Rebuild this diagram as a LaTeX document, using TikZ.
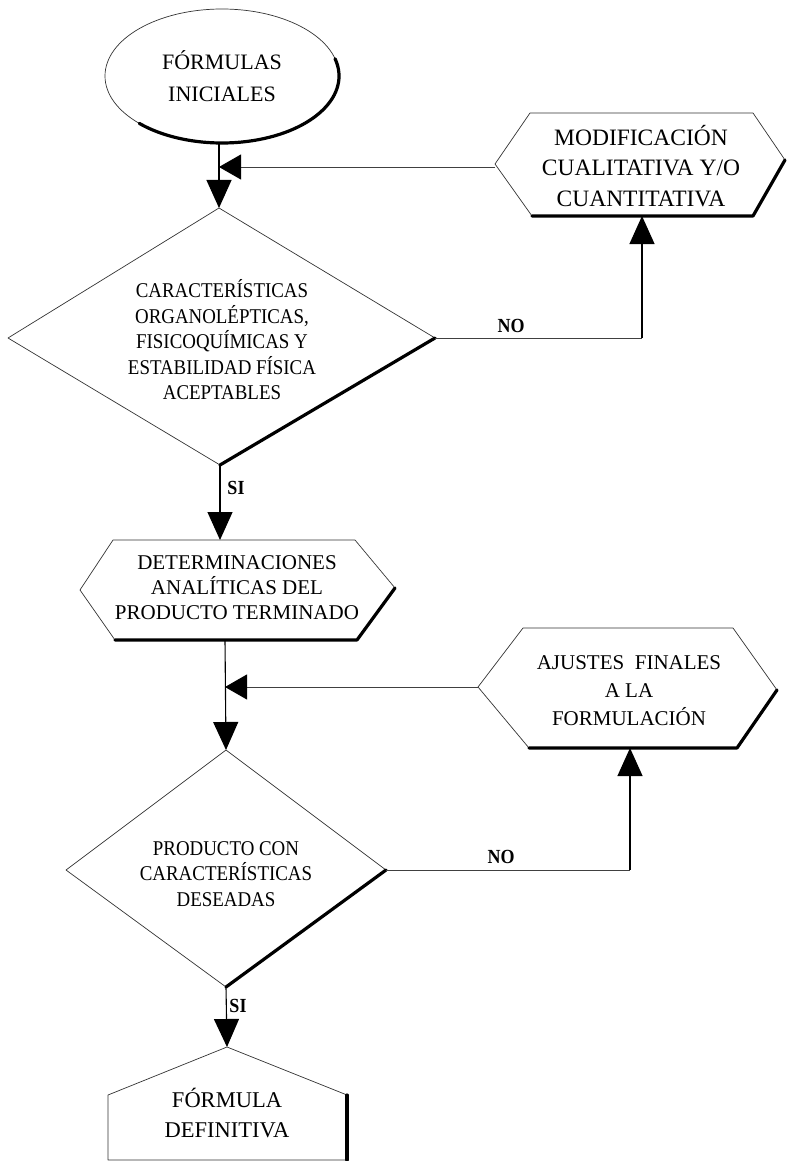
\documentclass[tikz,border=0pt]{standalone}
\usepackage{fontspec}
\setmainfont{Liberation Serif}
\newfontfamily\condfont[FakeStretch=0.9]{Liberation Serif}
\usetikzlibrary{arrows.meta,shapes.geometric}
\begin{document}
\begin{tikzpicture}[x=1pt,y=-1pt,
  edgethin/.style={draw=black!80,line width=0.7pt,line join=round},
  edgethick/.style={draw=black,line width=3.2pt,line join=round,line cap=round},
  conn/.style={draw=black,line width=1.1pt},
  dotconn/.style={draw=black!75,line width=0.8pt},
  headv/.style={-{Triangle[length=28pt,width=25pt,color=black]}},
  headh/.style={-{Triangle[length=22pt,width=25pt,color=black]}},
  txt/.style={align=center,inner sep=0pt},
  boxtxt/.style={txt,font=\fontsize{21}{28}\selectfont},
  diatxt/.style={txt,font=\condfont\fontsize{21}{25.5}\selectfont},
  lbl/.style={inner sep=0pt,font=\condfont\bfseries\fontsize{20}{22}\selectfont}
]
\useasboundingbox (0,0) rectangle (793,1161);

% ---- initial ellipse
\node[ellipse,edgethin,minimum width=234pt,minimum height=134pt,txt,
      font=\fontsize{22}{32}\selectfont] (ini) at (222,76) {FÓRMULAS\\INICIALES};
\draw[edgethick] (ini.center) ++(-15:117 and 67) arc[start angle=-15,end angle=135,x radius=117,y radius=67];
\coordinate (iniS) at (219,143);

% ---- modification hexagon
\coordinate (modL) at (495,164);
\coordinate (modTL) at (530,113);
\coordinate (modTR) at (753,113);
\coordinate (modR) at (785,160);
\coordinate (modBR) at (753,216);
\coordinate (modBL) at (532,216);
\coordinate (modB) at (642,216);
\draw[edgethin] (modBL) -- (modL) -- (modTL) -- (modTR) -- (modR);
\draw[edgethick] (modR) -- (modBR) -- (modBL);
\node[boxtxt,font=\fontsize{23.5}{30.5}\selectfont] (mod) at (641,166) {MODIFICACIÓN\\CUALITATIVA Y/O\\CUANTITATIVA};

% ---- decision 1
\coordinate (d1T) at (219,208);
\coordinate (d1R) at (435,338);
\coordinate (d1B) at (220,465);
\coordinate (d1L) at (8,338);
\draw[edgethin] (d1B) -- (d1L) -- (d1T) -- (d1R);
\draw[edgethick] (d1R) -- (d1B);
\node[diatxt] (d1) at (222,340) {CARACTERÍSTICAS\\ORGANOLÉPTICAS,\\FISICOQUÍMICAS Y\\ESTABILIDAD FÍSICA\\ACEPTABLES};

% ---- determinations hexagon
\coordinate (detL) at (80,590);
\coordinate (detTL) at (113,540);
\coordinate (detTR) at (355,540);
\coordinate (detR) at (395,588);
\coordinate (detBR) at (357,640);
\coordinate (detBL) at (115,640);
\coordinate (detT) at (220,540);
\coordinate (detB) at (225,640);
\draw[edgethin] (detBL) -- (detL) -- (detTL) -- (detTR) -- (detR);
\draw[edgethick] (detR) -- (detBR) -- (detBL);
\node[boxtxt,font=\fontsize{21}{25}\selectfont] (det) at (237,588) {DETERMINACIONES\\ANALÍTICAS DEL\\PRODUCTO TERMINADO};

% ---- adjustments hexagon
\coordinate (ajuL) at (478,687);
\coordinate (ajuTL) at (523,628);
\coordinate (ajuTR) at (733,628);
\coordinate (ajuR) at (777,690);
\coordinate (ajuBR) at (737,748);
\coordinate (ajuBL) at (529,748);
\coordinate (ajuB) at (630,748);
\draw[edgethin] (ajuBL) -- (ajuL) -- (ajuTL) -- (ajuTR) -- (ajuR);
\draw[edgethick] (ajuR) -- (ajuBR) -- (ajuBL);
\node[boxtxt,font=\fontsize{21}{28}\selectfont] (aju) at (629,691) {AJUSTES\ \ FINALES\\A LA\\FORMULACIÓN};

% ---- decision 2
\coordinate (d2T) at (226,750);
\coordinate (d2R) at (386,870);
\coordinate (d2B) at (226,987);
\coordinate (d2L) at (66,870);
\draw[edgethin] (d2B) -- (d2L) -- (d2T) -- (d2R);
\draw[edgethick] (d2R) -- (d2B);
\node[diatxt] (d2) at (226,874) {PRODUCTO CON\\CARACTERÍSTICAS\\DESEADAS};

% ---- final pentagon
\coordinate (finT) at (227,1047);
\coordinate (finLS) at (108,1095);
\coordinate (finRS) at (347,1095);
\coordinate (finLB) at (108,1160);
\coordinate (finRB) at (347,1160);
\draw[edgethin] (finRB) -- (finLB) -- (finLS) -- (finT) -- (finRS);
\draw[edgethick] (finRS) -- (finRB);
\node[txt,font=\fontsize{22.5}{30}\selectfont] (fin) at (227,1113) {FÓRMULA\\DEFINITIVA};

% ---- connectors
\coordinate (j1) at (219,167);
\coordinate (m1) at (495,167);
\coordinate (n1) at (642,338);
\coordinate (j2) at (225,687);
\coordinate (n2) at (630,870);

\draw[conn,headv] (iniS) -- (d1T);
\draw[dotconn,headh] (m1) -- (j1);
\draw[dotconn] (d1R) -- (n1);
\draw[conn,headv] (n1) -- (modB);
\draw[conn,headv] (d1B) -- (detT);
\draw[conn,headv] (detB) -- (d2T);
\draw[dotconn,headh] (ajuL) -- (j2);
\draw[dotconn] (d2R) -- (n2);
\draw[conn,headv] (n2) -- (ajuB);
\draw[conn,headv] (d2B) -- (finT);

% ---- labels
\node[lbl] (no1) at (511,326) {NO};
\node[lbl] (si1) at (236,488) {SI};
\node[lbl] (no2) at (501,857) {NO};
\node[lbl] (si2) at (238,1006) {SI};
\end{tikzpicture}
\end{document}
